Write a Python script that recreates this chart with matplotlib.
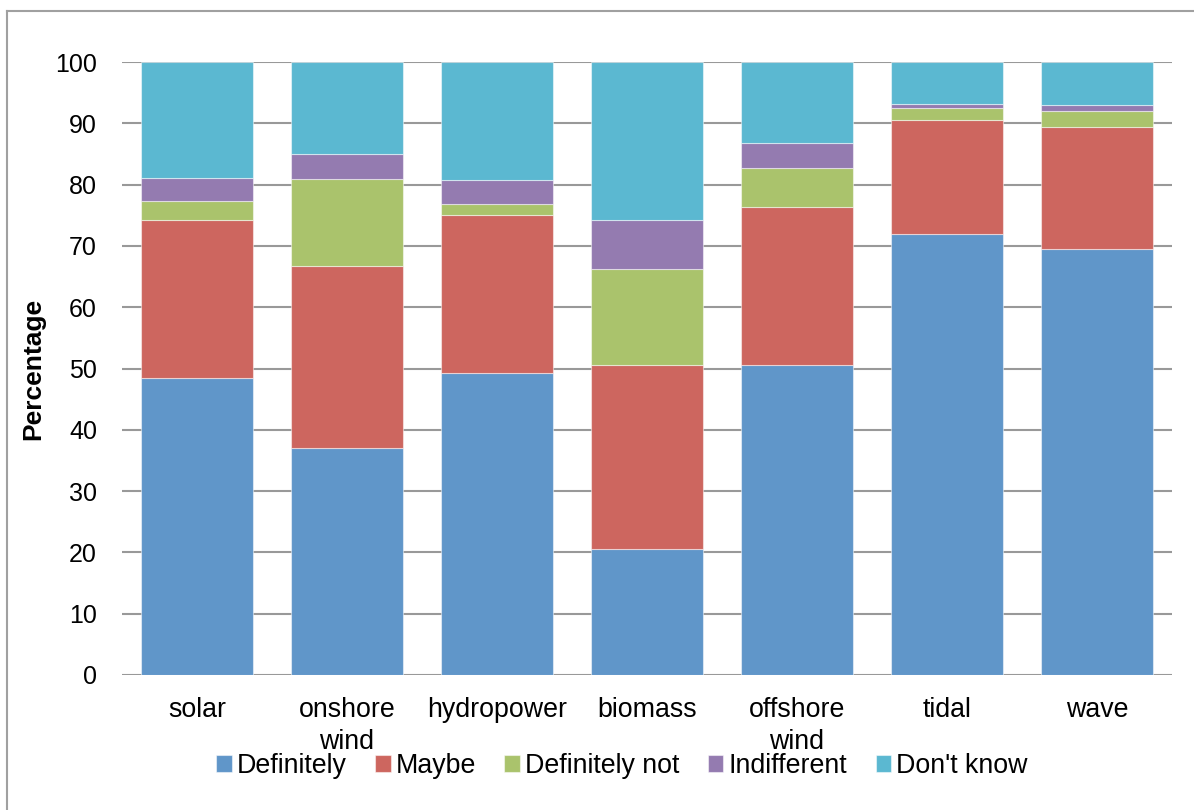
import matplotlib
matplotlib.use("Agg")
import matplotlib.pyplot as plt
import numpy as np
from matplotlib.lines import Line2D

plt.rcParams['font.family'] = ['Liberation Sans', 'DejaVu Sans']

categories = ["solar", "onshore\nwind", "hydropower", "biomass", "offshore\nwind", "tidal", "wave"]
series = ["Definitely", "Maybe", "Definitely not", "Indifferent", "Don't know"]

definitely = [48.5, 37.1, 49.3, 20.5, 50.5, 72.0, 69.5]
maybe = [25.7, 29.7, 25.7, 30.1, 25.9, 18.6, 19.9]
definitely_not = [3.1, 14.1, 1.8, 15.7, 6.3, 1.9, 2.6]
indifferent = [3.8, 4.1, 4.0, 7.9, 4.1, 0.7, 1.0]
dont_know = [18.9, 15.0, 19.2, 25.8, 13.2, 6.8, 7.0]

colours = ["#6096c9", "#cd665f", "#aac36c", "#947bb0", "#5bb8d1"]

fig = plt.figure(figsize=(11.94, 8.10), dpi=100)
ax = fig.add_axes([122/1194, 1-675/810, 1050/1194, 613/810])

x = np.arange(len(categories))
bottom = np.zeros(len(categories))
for name, vals, col in zip(series, [definitely, maybe, definitely_not, indifferent, dont_know], colours):
    ax.bar(x, vals, 0.75, bottom=bottom, color=col, label=name,
           edgecolor=(1, 1, 1, 0.5), linewidth=0.8, zorder=3)
    bottom += np.array(vals)

ax.set_xlim(-0.5, len(categories) - 0.5)
ax.set_ylim(0, 100)
ax.set_yticks(range(0, 101, 10))
ax.set_xticks(x)
ax.set_xticklabels(categories, fontsize=19.3, linespacing=1.3)
ax.tick_params(axis='y', labelsize=18, length=0, pad=18)
ax.tick_params(axis='x', length=0, pad=16)
ax.yaxis.grid(True, color="#999999", linewidth=1.5, zorder=0)
ax.set_axisbelow(True)
for s in ax.spines.values():
    s.set_visible(False)

ax.set_ylabel("Percentage", fontsize=19, fontweight='bold')
ax.yaxis.set_label_coords(-0.073, 0.5)

leg = fig.legend(loc='center', bbox_to_anchor=(622/1194, 1-766/810), ncol=5,
                 frameon=False, fontsize=19.3, handlelength=0.58, handleheight=0.58,
                 handletextpad=0.2, columnspacing=1.05, borderpad=0)

# outer chart border
fig.add_artist(Line2D([7/1194, 7/1194], [0, 1-11/810], color="#a0a0a0", linewidth=1.5))
fig.add_artist(Line2D([7/1194, 1], [1-11/810, 1-11/810], color="#a0a0a0", linewidth=1.5))

fig.savefig("out.png", dpi=100)
